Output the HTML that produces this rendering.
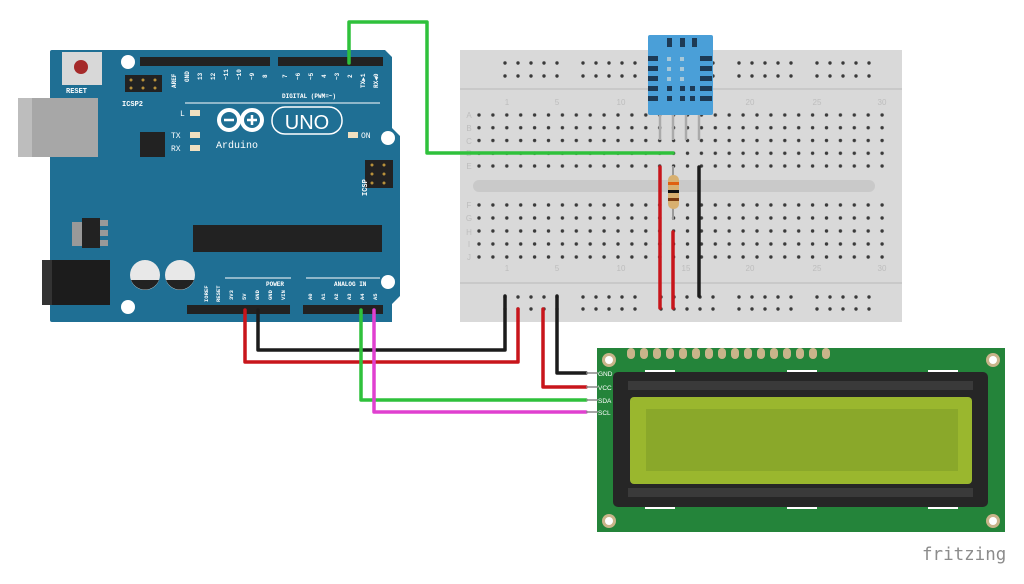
<!DOCTYPE html>
<html><head><meta charset="utf-8"><style>html,body{margin:0;padding:0;background:#fff}svg{display:block}</style></head>
<body>
<svg width="1024" height="584" viewBox="0 0 1024 584" xmlns="http://www.w3.org/2000/svg" font-family="Liberation Mono, monospace">
<defs>
<pattern id="mainA" x="472" y="109" width="13.9" height="12.75" patternUnits="userSpaceOnUse"><circle cx="7" cy="6" r="1.7" fill="#3a3a3a"/></pattern>
<pattern id="mainF" x="472" y="199" width="13.9" height="13" patternUnits="userSpaceOnUse"><circle cx="7" cy="6" r="1.7" fill="#3a3a3a"/></pattern>
<pattern id="rail" x="499" y="57" width="78" height="26" patternUnits="userSpaceOnUse"><g fill="#3a3a3a"><circle cx="6" cy="6" r="1.7"/><circle cx="19" cy="6" r="1.7"/><circle cx="32" cy="6" r="1.7"/><circle cx="45" cy="6" r="1.7"/><circle cx="58" cy="6" r="1.7"/><circle cx="6" cy="19" r="1.7"/><circle cx="19" cy="19" r="1.7"/><circle cx="32" cy="19" r="1.7"/><circle cx="45" cy="19" r="1.7"/><circle cx="58" cy="19" r="1.7"/></g></pattern>
<pattern id="railB" x="499" y="291" width="78" height="26" patternUnits="userSpaceOnUse"><g fill="#3a3a3a"><circle cx="6" cy="6" r="1.7"/><circle cx="19" cy="6" r="1.7"/><circle cx="32" cy="6" r="1.7"/><circle cx="45" cy="6" r="1.7"/><circle cx="58" cy="6" r="1.7"/><circle cx="6" cy="18" r="1.7"/><circle cx="19" cy="18" r="1.7"/><circle cx="32" cy="18" r="1.7"/><circle cx="45" cy="18" r="1.7"/><circle cx="58" cy="18" r="1.7"/></g></pattern>
<pattern id="lpins" x="627" y="348" width="13" height="12" patternUnits="userSpaceOnUse"><rect x="0" y="0" width="8" height="11" rx="4" fill="#c9b48a"/></pattern>
</defs>

<!-- Breadboard -->
<rect x="460" y="50" width="442" height="272" fill="#d9d9d9"/>
<line x1="460" y1="89" x2="902" y2="89" stroke="#c4c4c4" stroke-width="1.5"/>
<line x1="460" y1="283" x2="902" y2="283" stroke="#c4c4c4" stroke-width="1.5"/>
<rect x="473" y="180" width="402" height="12" rx="6" fill="#c9c9c9"/>
<rect x="472" y="109" width="417" height="64" fill="url(#mainA)"/>
<rect x="472" y="199" width="417" height="65" fill="url(#mainF)"/>
<rect x="499" y="57" width="390" height="26" fill="url(#rail)"/>
<rect x="499" y="291" width="390" height="25" fill="url(#railB)"/>
<g fill="#bdbdbd" font-size="8" font-family="Liberation Sans, sans-serif" text-anchor="middle">
<text x="507" y="105">1</text><text x="557" y="105">5</text><text x="621" y="105">10</text><text x="750" y="105">20</text><text x="817" y="105">25</text><text x="882" y="105">30</text>
<text x="507" y="271">1</text><text x="557" y="271">5</text><text x="621" y="271">10</text><text x="686" y="271">15</text><text x="750" y="271">20</text><text x="817" y="271">25</text><text x="882" y="271">30</text>
<text x="469" y="118">A</text><text x="469" y="131">B</text><text x="469" y="144">C</text><text x="469" y="156">D</text><text x="469" y="169">E</text>
<text x="469" y="208">F</text><text x="469" y="221">G</text><text x="469" y="235">H</text><text x="469" y="247">I</text><text x="469" y="260">J</text>
</g>

<!-- Arduino -->
<path d="M52 50 H385 L392 57 V128 L400 136 V296 L392 304 V322 H52 Q50 322 50 320 V52 Q50 50 52 50Z" fill="#1f6f94"/>
<rect x="18" y="98" width="80" height="59" fill="#a7a7a7"/><rect x="18" y="98" width="14" height="59" fill="#bdbdbd"/>
<rect x="42" y="260" width="68" height="45" fill="#1c1c1c"/><rect x="42" y="260" width="10" height="45" fill="#333"/>
<rect x="62" y="52" width="40" height="33" fill="#d8d8d8"/><circle cx="81" cy="67" r="7" fill="#a52a2a"/>
<text x="66" y="93" font-size="7" fill="#fff" font-weight="bold">RESET</text>
<circle cx="128" cy="62" r="7" fill="#fff"/>
<rect x="125" y="75" width="37" height="17" fill="#222"/>
<g fill="#b8913a"><circle cx="131" cy="80" r="1.5"/><circle cx="143" cy="80" r="1.5"/><circle cx="155" cy="80" r="1.5"/><circle cx="131" cy="88" r="1.5"/><circle cx="143" cy="88" r="1.5"/><circle cx="155" cy="88" r="1.5"/></g>
<text x="122" y="106" font-size="7" fill="#fff" font-weight="bold">ICSP2</text>
<rect x="140" y="57" width="130" height="9" fill="#222"/>
<rect x="278" y="57" width="105" height="9" fill="#222"/>
<text x="282" y="98" font-size="6" fill="#fff" font-weight="bold">DIGITAL (PWM=~)</text>
<line x1="185" y1="103" x2="380" y2="103" stroke="#fff" stroke-width="1"/>
<g font-size="6" fill="#fff" font-weight="bold">
<text transform="translate(176,88) rotate(-90)">AREF</text><text transform="translate(189,82) rotate(-90)">GND</text><text transform="translate(202,80) rotate(-90)">13</text><text transform="translate(215,80) rotate(-90)">12</text><text transform="translate(228,80) rotate(-90)">~11</text><text transform="translate(241,80) rotate(-90)">~10</text><text transform="translate(254,80) rotate(-90)">~9</text><text transform="translate(267,78) rotate(-90)">8</text>
<text transform="translate(287,78) rotate(-90)">7</text><text transform="translate(300,80) rotate(-90)">~6</text><text transform="translate(313,80) rotate(-90)">~5</text><text transform="translate(326,78) rotate(-90)">4</text><text transform="translate(339,80) rotate(-90)">~3</text><text transform="translate(352,78) rotate(-90)">2</text><text transform="translate(365,88) rotate(-90)">TX▶1</text><text transform="translate(378,88) rotate(-90)">RX◀0</text>
</g>
<rect x="190" y="110" width="10" height="6" fill="#f0e0c0"/><text x="180" y="116" font-size="8" fill="#fff">L</text>
<rect x="190" y="132" width="10" height="6" fill="#f0e0c0"/><text x="171" y="138" font-size="8" fill="#fff">TX</text>
<rect x="190" y="145" width="10" height="6" fill="#f0e0c0"/><text x="171" y="151" font-size="8" fill="#fff">RX</text>
<rect x="348" y="132" width="10" height="6" fill="#f0e0c0"/><text x="361" y="138" font-size="8" fill="#fff">ON</text>
<rect x="140" y="132" width="25" height="25" fill="#222"/>
<g fill="none" stroke="#fff" stroke-width="4"><circle cx="229" cy="120" r="10"/><circle cx="252" cy="120" r="10"/></g>
<path d="M224 120h10M247 120h10M252 115v10" stroke="#fff" stroke-width="2.5"/>
<rect x="272" y="107" width="70" height="27" rx="13" fill="none" stroke="#fff" stroke-width="1.5"/>
<text x="307" y="129" font-size="20" fill="#fff" text-anchor="middle" font-family="Liberation Sans, sans-serif">UNO</text>
<text x="216" y="148" font-size="10" fill="#fff">Arduino</text>
<circle cx="388" cy="138" r="7" fill="#fff"/>
<rect x="365" y="160" width="28" height="28" fill="#222"/>
<g fill="#b8913a"><circle cx="372" cy="165" r="1.5"/><circle cx="384" cy="165" r="1.5"/><circle cx="372" cy="174" r="1.5"/><circle cx="384" cy="174" r="1.5"/><circle cx="372" cy="183" r="1.5"/><circle cx="384" cy="183" r="1.5"/></g>
<text transform="translate(367,196) rotate(-90)" font-size="7" fill="#fff" font-weight="bold">ICSP</text>
<rect x="193" y="225" width="189" height="27" fill="#222"/>
<rect x="72" y="222" width="10" height="24" fill="#999"/><rect x="82" y="218" width="18" height="30" fill="#222"/><rect x="100" y="220" width="8" height="6" fill="#999"/><rect x="100" y="230" width="8" height="6" fill="#999"/><rect x="100" y="240" width="8" height="6" fill="#999"/>
<circle cx="145" cy="275" r="15" fill="#e8e8e8"/><path d="M131 280 A15 15 0 0 0 159 280Z" fill="#222"/>
<circle cx="180" cy="275" r="15" fill="#e8e8e8"/><path d="M166 280 A15 15 0 0 0 194 280Z" fill="#222"/>
<circle cx="128" cy="307" r="7" fill="#fff"/><circle cx="388" cy="282" r="7" fill="#fff"/>
<line x1="225" y1="278" x2="291" y2="278" stroke="#fff"/><line x1="306" y1="278" x2="380" y2="278" stroke="#fff"/>
<text x="266" y="286" font-size="6" fill="#fff" font-weight="bold">POWER</text>
<text x="334" y="286" font-size="6" fill="#fff" font-weight="bold">ANALOG IN</text>
<g font-size="5.5" fill="#fff" font-weight="bold">
<text transform="translate(208,302) rotate(-90)">IOREF</text><text transform="translate(220,302) rotate(-90)">RESET</text><text transform="translate(233,300) rotate(-90)">3V3</text><text transform="translate(246,300) rotate(-90)">5V</text><text transform="translate(259,300) rotate(-90)">GND</text><text transform="translate(272,300) rotate(-90)">GND</text><text transform="translate(285,300) rotate(-90)">VIN</text>
<text transform="translate(312,300) rotate(-90)">A0</text><text transform="translate(325,300) rotate(-90)">A1</text><text transform="translate(338,300) rotate(-90)">A2</text><text transform="translate(351,300) rotate(-90)">A3</text><text transform="translate(364,300) rotate(-90)">A4</text><text transform="translate(377,300) rotate(-90)">A5</text>
</g>
<rect x="187" y="305" width="103" height="9" fill="#222"/>
<rect x="303" y="305" width="80" height="9" fill="#222"/>

<!-- DHT11 -->
<rect x="648" y="35" width="65" height="80" rx="2" fill="#4a9fd8"/>
<g fill="#1d3a55"><rect x="667" y="38" width="5" height="9"/><rect x="680" y="38" width="5" height="9"/><rect x="692" y="38" width="5" height="9"/>
<rect x="648" y="56" width="10" height="5"/><rect x="648" y="66" width="10" height="5"/><rect x="648" y="76" width="10" height="5"/><rect x="648" y="86" width="10" height="5"/><rect x="648" y="96" width="10" height="5"/>
<rect x="700" y="56" width="12" height="5"/><rect x="700" y="66" width="12" height="5"/><rect x="700" y="76" width="12" height="5"/><rect x="700" y="86" width="12" height="5"/><rect x="700" y="96" width="12" height="5"/>
<rect x="667" y="86" width="5" height="5"/><rect x="680" y="86" width="5" height="5"/><rect x="690" y="86" width="5" height="5"/><rect x="667" y="96" width="5" height="5"/><rect x="680" y="96" width="5" height="5"/><rect x="690" y="96" width="5" height="5"/></g>
<g fill="#a8c8d8"><rect x="667" y="57" width="4" height="4"/><rect x="680" y="57" width="4" height="4"/><rect x="667" y="67" width="4" height="4"/><rect x="680" y="67" width="4" height="4"/><rect x="667" y="77" width="4" height="4"/><rect x="680" y="77" width="4" height="4"/></g>
<g stroke="#aaa" stroke-width="2.5"><line x1="660" y1="115" x2="660" y2="140"/><line x1="673" y1="115" x2="673" y2="140"/><line x1="686" y1="115" x2="686" y2="140"/><line x1="699" y1="115" x2="699" y2="140"/></g>

<!-- resistor -->
<line x1="673" y1="166" x2="673" y2="220" stroke="#999" stroke-width="2"/>
<rect x="668" y="175" width="11" height="34" rx="5" fill="#d8b070"/>
<rect x="668" y="182" width="11" height="3" fill="#e06010"/><rect x="668" y="190" width="11" height="3" fill="#111"/><rect x="668" y="198" width="11" height="3" fill="#7a3a10"/>

<!-- wires -->
<g fill="none" stroke-width="3.5" stroke-linejoin="round" stroke-linecap="round">
<path d="M349 63 V22 H427 V153 H673" stroke="#2fc13b"/>
<path d="M660 167 V308" stroke="#c8151b"/>
<path d="M673 232 V308" stroke="#c8151b"/>
<path d="M699 167 V296" stroke="#1c1c1c"/>
<path d="M505 296 V350 H258 V310" stroke="#1c1c1c"/>
<path d="M518 309 V362 H245 V310" stroke="#c8151b"/>
<path d="M557 296 V373 H586" stroke="#1c1c1c"/>
<path d="M543 309 V387 H586" stroke="#c8151b"/>
<path d="M361 310 V400 H586" stroke="#2fc13b"/>
<path d="M374 310 V412 H586" stroke="#e040d0"/>
</g>

<!-- LCD -->
<rect x="597" y="348" width="408" height="184" fill="#24843a"/>
<rect x="627" y="348" width="208" height="11" fill="url(#lpins)"/>
<g fill="#c9b48a"><circle cx="609" cy="360" r="7"/><circle cx="993" cy="360" r="7"/><circle cx="609" cy="521" r="7"/><circle cx="993" cy="521" r="7"/></g>
<g fill="#fff"><circle cx="609" cy="360" r="4"/><circle cx="993" cy="360" r="4"/><circle cx="609" cy="521" r="4"/><circle cx="993" cy="521" r="4"/></g>
<rect x="613" y="372" width="375" height="135" rx="5" fill="#262626"/>
<rect x="628" y="381" width="345" height="9" fill="#3a3a3a"/><rect x="628" y="488" width="345" height="9" fill="#3a3a3a"/>
<rect x="630" y="397" width="342" height="87" rx="4" fill="#9ab72e"/>
<rect x="646" y="409" width="312" height="62" fill="#8aa82a"/>
<g fill="#fff"><rect x="645" y="370" width="30" height="2"/><rect x="787" y="370" width="30" height="2"/><rect x="928" y="370" width="30" height="2"/><rect x="645" y="507" width="30" height="2"/><rect x="787" y="507" width="30" height="2"/><rect x="928" y="507" width="30" height="2"/></g>
<g stroke="#888" stroke-width="1.5"><line x1="586" y1="373" x2="598" y2="373"/><line x1="586" y1="387" x2="598" y2="387"/><line x1="586" y1="400" x2="598" y2="400"/><line x1="586" y1="412" x2="598" y2="412"/></g>
<g font-size="6.5" fill="#fff" font-family="Liberation Sans, sans-serif"><text x="598" y="376">GND</text><text x="598" y="390">VCC</text><text x="598" y="403">SDA</text><text x="598" y="415">SCL</text></g>

<text x="922" y="560" font-size="17.5" fill="#8c8c8c" font-family="DejaVu Sans Mono, monospace">fritzing</text>
</svg>
</body></html>
